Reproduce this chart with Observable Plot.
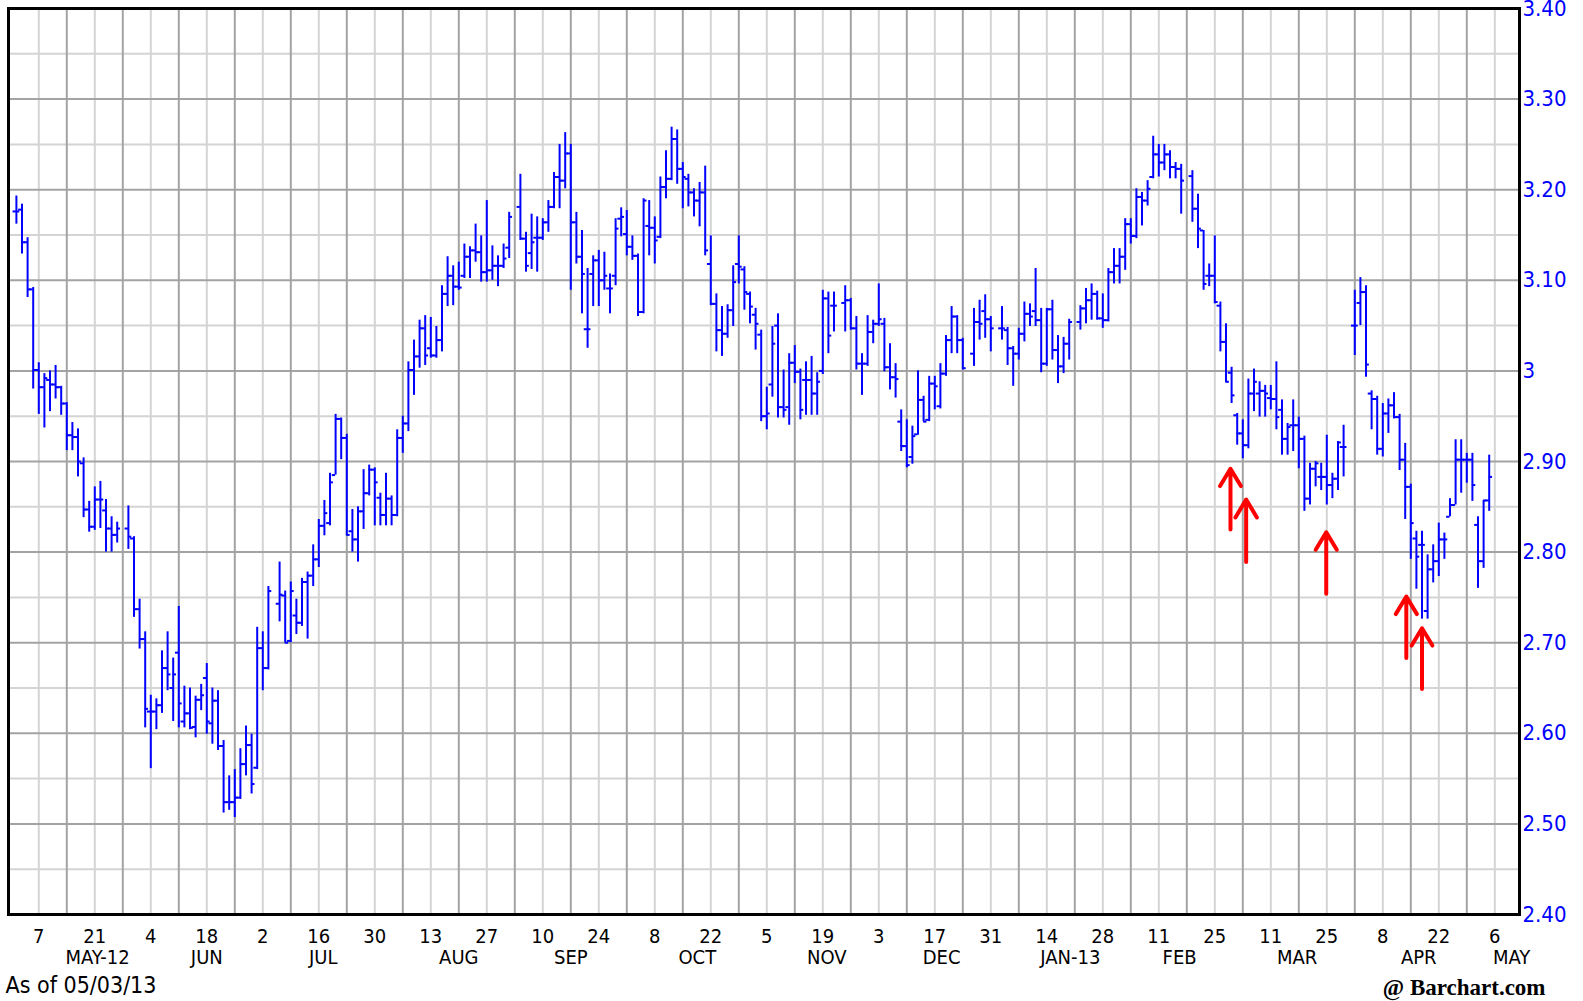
<!DOCTYPE html>
<html><head><meta charset="utf-8">
<script src="https://cdn.jsdelivr.net/npm/d3@7"></script>
<script src="https://cdn.jsdelivr.net/npm/@observablehq/plot@0.6"></script>
<style>
html,body{margin:0;padding:0;background:#fff;}
#chart{width:1583px;height:1001px;overflow:hidden;}
</style></head><body><div id="chart"></div>
<script>
// ---- calendar (categories) ----
const firstDay = "2012-05-01", lastDay = "2013-05-03";
const holidays = ["2012-05-28","2012-07-04","2012-09-03","2012-11-22","2012-12-25","2013-01-01","2013-01-21","2013-02-18","2013-03-29"];

// ---- daily OHLC values, one line per week ----
const open = [
3.176,3.178,3.142,3.090,
3.001,2.982,2.990,2.985,2.982,
2.964,2.929,2.927,2.898,2.847,
2.828,2.858,2.846,2.826,2.819,
2.826,2.815,2.737,2.704,
2.624,2.624,2.631,2.672,2.650,
2.689,2.613,2.622,2.607,2.637,
2.661,2.611,2.636,2.586,2.524,
2.524,2.529,2.566,2.587,2.562,
2.694,2.672,2.743,2.752,
2.702,2.730,2.722,2.767,2.774,
2.792,2.829,2.832,2.885,2.947,
2.926,2.823,2.814,2.845,2.865,
2.891,2.860,2.841,2.859,2.841,
2.926,2.942,3.001,3.016,3.047,
3.025,3.017,3.034,3.085,3.105,
3.093,3.105,3.126,3.133,3.131,
3.109,3.111,3.116,3.116,3.136,
3.181,3.146,3.130,3.147,
3.147,3.164,3.181,3.214,3.210,
3.240,3.164,3.126,3.046,3.107,
3.122,3.100,3.091,3.105,3.168,
3.151,3.137,3.127,3.065,3.160,
3.158,3.148,3.203,3.212,3.256,
3.223,3.212,3.197,3.188,3.197,
3.118,3.074,3.045,3.041,3.067,
3.118,3.112,3.085,3.062,3.040,
2.950,2.985,3.050,2.960,2.960,
3.009,2.999,2.990,2.990,2.975,
3.000,3.080,3.072,3.075,
3.078,3.047,3.008,3.008,3.043,
3.052,3.052,3.004,2.993,2.944,
2.917,2.905,2.930,2.968,2.946,
2.986,2.961,2.997,3.034,3.060,
3.034,3.019,3.054,3.066,
3.057,3.047,3.045,3.025,
3.019,3.041,3.063,3.066,3.056,
3.008,3.068,3.023,3.005,3.030,
3.054,3.069,3.078,3.085,
3.058,3.056,3.109,3.116,3.126,
3.162,3.149,3.192,3.188,3.214,
3.239,3.230,3.239,3.225,3.223,
3.215,3.179,3.155,3.105,
3.105,3.072,3.032,2.998,2.951,
2.931,2.918,2.975,2.975,2.978,
2.970,2.969,2.957,2.925,2.940,
2.940,2.925,2.859,2.892,2.883,
2.883,2.874,2.881,2.916,
3.050,3.075,3.087,2.975,2.969,
2.914,2.953,2.962,2.949,2.902,
2.872,2.815,2.808,2.735,2.781,
2.790,2.814,2.839,2.852,2.902,
2.902,2.902,2.830,2.790,2.857];
const high = [
3.193,3.184,3.147,3.092,
3.009,2.997,3.000,3.006,2.983,
2.965,2.943,2.936,2.904,2.856,
2.872,2.878,2.858,2.839,2.833,
2.851,2.817,2.748,2.712,
2.642,2.638,2.691,2.712,2.683,
2.740,2.652,2.650,2.641,2.654,
2.677,2.650,2.647,2.592,2.553,
2.560,2.583,2.608,2.599,2.717,
2.712,2.762,2.789,2.757,
2.767,2.748,2.771,2.778,2.808,
2.836,2.857,2.887,2.952,2.948,
2.930,2.847,2.850,2.891,2.896,
2.893,2.865,2.887,2.862,2.935,
2.950,3.010,3.034,3.056,3.061,
3.059,3.049,3.094,3.126,3.116,
3.120,3.140,3.137,3.162,3.149,
3.188,3.138,3.127,3.140,3.175,
3.217,3.153,3.173,3.170,
3.168,3.188,3.219,3.250,3.263,
3.250,3.175,3.155,3.113,3.127,
3.133,3.131,3.107,3.168,3.180,
3.177,3.149,3.129,3.190,3.188,
3.170,3.214,3.243,3.269,3.266,
3.230,3.217,3.201,3.208,3.226,
3.149,3.085,3.071,3.073,3.116,
3.149,3.115,3.087,3.069,3.045,
2.982,3.049,3.063,3.001,3.019,
3.028,3.002,3.010,3.016,2.998,
3.089,3.087,3.087,3.094,
3.080,3.060,3.019,3.061,3.056,
3.096,3.058,3.030,3.008,2.957,
2.946,2.939,3.000,2.972,2.994,
2.994,3.008,3.039,3.071,3.061,
3.036,3.069,3.078,3.084,
3.060,3.071,3.048,3.027,
3.047,3.076,3.074,3.113,3.069,
3.069,3.078,3.039,3.037,3.057,
3.072,3.091,3.096,3.088,
3.085,3.113,3.135,3.135,3.168,
3.168,3.201,3.197,3.210,3.259,
3.250,3.250,3.243,3.230,3.228,
3.221,3.195,3.155,3.118,
3.149,3.076,3.052,3.004,2.953,
2.946,2.991,3.002,2.988,2.984,
2.984,3.010,2.968,2.942,2.968,
2.949,2.928,2.898,2.900,2.898,
2.929,2.887,2.922,2.940,
3.089,3.103,3.094,2.978,2.972,
2.964,2.969,2.976,2.952,2.920,
2.875,2.823,2.823,2.797,2.808,
2.832,2.821,2.859,2.924,2.924,
2.909,2.909,2.839,2.857,2.907];
const low = [
3.162,3.129,3.081,2.980,
2.952,2.937,2.955,2.969,2.951,
2.912,2.912,2.883,2.838,2.822,
2.824,2.826,2.800,2.800,2.810,
2.803,2.728,2.693,2.606,
2.561,2.604,2.622,2.647,2.613,
2.606,2.606,2.604,2.595,2.625,
2.599,2.588,2.581,2.512,2.515,
2.507,2.527,2.553,2.533,2.560,
2.647,2.670,2.723,2.700,
2.700,2.709,2.718,2.704,2.762,
2.783,2.818,2.829,2.885,2.902,
2.818,2.800,2.789,2.825,2.862,
2.829,2.829,2.829,2.829,2.839,
2.909,2.933,2.973,3.003,3.006,
3.014,3.014,3.021,3.071,3.072,
3.089,3.102,3.102,3.120,3.098,
3.098,3.100,3.093,3.113,3.124,
3.144,3.109,3.112,3.109,
3.144,3.153,3.179,3.179,3.201,
3.089,3.118,3.063,3.025,3.071,
3.071,3.089,3.063,3.094,3.148,
3.127,3.122,3.060,3.063,3.127,
3.118,3.146,3.190,3.210,3.206,
3.179,3.181,3.170,3.159,3.127,
3.072,3.021,3.016,3.036,3.049,
3.096,3.067,3.052,3.023,2.944,
2.935,2.971,2.948,2.948,2.940,
2.986,2.946,2.951,2.951,2.951,
2.996,3.019,3.043,3.043,
3.045,3.001,2.973,3.005,3.030,
3.049,2.999,2.979,2.970,2.911,
2.893,2.897,2.929,2.944,2.944,
2.957,2.958,2.994,3.019,3.019,
3.001,3.005,3.034,3.036,
3.021,3.034,3.006,2.983,
3.012,3.032,3.049,3.049,2.998,
3.005,3.012,2.986,2.997,3.012,
3.045,3.052,3.056,3.056,
3.047,3.054,3.096,3.096,3.111,
3.140,3.146,3.160,3.182,3.212,
3.214,3.221,3.212,3.212,3.173,
3.164,3.135,3.089,3.093,
3.074,3.021,2.987,2.964,2.918,
2.903,2.914,2.955,2.949,2.949,
2.957,2.935,2.907,2.907,2.911,
2.892,2.845,2.852,2.872,2.868,
2.852,2.859,2.868,2.883,
3.017,3.050,2.993,2.935,2.907,
2.905,2.931,2.947,2.890,2.836,
2.792,2.759,2.726,2.726,2.766,
2.773,2.792,2.839,2.852,2.865,
2.876,2.856,2.760,2.782,2.845];
const close = [
3.176,3.142,3.090,3.001,
2.982,2.992,2.985,2.982,2.964,
2.929,2.927,2.900,2.847,2.828,
2.858,2.858,2.826,2.819,2.826,
2.817,2.737,2.704,2.627,
2.624,2.631,2.672,2.665,2.665,
2.633,2.622,2.606,2.637,2.642,
2.613,2.636,2.586,2.524,2.524,
2.529,2.566,2.587,2.544,2.694,
2.672,2.757,2.753,2.700,
2.757,2.722,2.767,2.774,2.792,
2.829,2.843,2.877,2.947,2.926,
2.819,2.814,2.845,2.865,2.891,
2.877,2.841,2.859,2.841,2.926,
2.942,3.001,3.016,3.047,3.017,
3.017,3.034,3.085,3.105,3.093,
3.092,3.126,3.133,3.131,3.109,
3.111,3.116,3.116,3.124,3.170,
3.146,3.116,3.142,3.147,
3.164,3.181,3.214,3.210,3.240,
3.164,3.126,3.107,3.046,3.122,
3.100,3.105,3.091,3.157,3.170,
3.137,3.127,3.065,3.188,3.158,
3.144,3.203,3.212,3.256,3.223,
3.214,3.197,3.188,3.197,3.133,
3.074,3.045,3.041,3.067,3.098,
3.115,3.087,3.071,3.052,2.950,
2.953,3.030,2.960,2.957,3.009,
2.999,2.957,2.990,2.975,2.988,
3.080,3.039,3.072,3.078,
3.047,3.008,3.008,3.043,3.052,
3.057,3.004,2.993,2.991,2.917,
2.896,2.928,2.968,2.944,2.986,
2.983,2.997,3.034,3.060,3.034,
3.003,3.054,3.052,3.057,
3.047,3.047,3.025,3.019,
3.041,3.063,3.060,3.056,3.008,
3.068,3.023,3.005,3.030,3.054,
3.069,3.078,3.085,3.058,
3.056,3.109,3.116,3.126,3.162,
3.149,3.192,3.188,3.201,3.239,
3.230,3.239,3.225,3.223,3.210,
3.179,3.157,3.096,3.105,
3.076,3.032,2.988,2.973,2.931,
2.918,2.975,2.988,2.978,2.975,
2.969,2.949,2.925,2.938,2.940,
2.925,2.859,2.892,2.898,2.883,
2.874,2.881,2.921,2.916,
3.050,3.087,3.007,2.969,2.914,
2.953,2.962,2.949,2.902,2.872,
2.832,2.795,2.808,2.781,2.790,
2.814,2.814,2.852,2.902,2.902,
2.902,2.874,2.790,2.857,2.883];

// ---- axis labels ----
const tickDates = ["2012-05-07","2012-05-21","2012-06-04","2012-06-18","2012-07-02","2012-07-16","2012-07-30","2012-08-13","2012-08-27","2012-09-10","2012-09-24","2012-10-08","2012-10-22","2012-11-05","2012-11-19","2012-12-03","2012-12-17","2012-12-31","2013-01-14","2013-01-28","2013-02-11","2013-02-25","2013-03-11","2013-03-25","2013-04-08","2013-04-22","2013-05-06"];
const monthNames = ["MAY-12","JUN","JUL","AUG","SEP","OCT","NOV","DEC","JAN-13","FEB","MAR","APR","MAY"];
const monthDates = ["2012-05-21T12:00Z","2012-06-18T00:00Z","2012-07-16T19:00Z","2012-08-20T00:00Z","2012-09-17T00:00Z","2012-10-17T14:00Z","2012-11-19T17:00Z","2012-12-18T05:00Z","2013-01-18T05:00Z","2013-02-14T17:00Z","2013-03-15T17:00Z","2013-04-16T10:00Z","2013-05-09T00:00Z"];
const yTicks = [2.40,2.50,2.60,2.70,2.80,2.90,3.00,3.10,3.20,3.30,3.40];
const yHalf = [2.45,2.55,2.65,2.75,2.85,2.95,3.05,3.15,3.25,3.35];

// ---- red annotation arrows ----
const arrowDates = ["2013-02-27T19:12Z","2013-03-04T14:24Z","2013-03-22T21:36Z","2013-04-12T04:48Z","2013-04-17T00:00Z"];
const arrowTip  = [2.892,2.858,2.822,2.751,2.716];
const arrowTail = [2.825,2.789,2.754,2.683,2.649];

// ---- helpers ----
const ref = Date.parse("2012-05-07T00:00Z");
function slot(s){
  const t = Date.parse(s.length === 10 ? s + "T00:00Z" : s);
  const d = (t - ref) / 864e5, w = Math.floor(d / 7);
  return w * 5 + (d - 7 * w);
}
const days = [];
for (let t = Date.parse(firstDay+"T00:00Z"); t <= Date.parse(lastDay+"T00:00Z"); t += 864e5) {
  const dt = new Date(t), wd = dt.getUTCDay();
  if (wd === 0 || wd === 6) continue;
  const iso = dt.toISOString().slice(0,10);
  if (holidays.includes(iso)) continue;
  days.push(iso);
}
const bars = days.map((d,i) => ({s: slot(d), o: open[i], h: high[i], l: low[i], c: close[i]})).filter(d => d.h != null);
const mondays = d3.range(0, 261, 5);
const lightX = mondays.filter(s => s % 10 === 0);
const darkX = mondays.filter(s => s % 10 !== 0);
const arrows = arrowDates.map((d,i) => ({s: slot(d), tip: arrowTip[i], tail: arrowTail[i]}));

const blue = "#0000ff";
const FONT = "'DejaVu Sans Condensed','DejaVu Sans',sans-serif";
const chart = Plot.plot({
  width: 1583, height: 1001,
  marginLeft: 8, marginRight: 64, marginTop: 8, marginBottom: 87,
  x: {domain: [-5.41, 264.41], axis: null},
  y: {domain: [2.4, 3.4], axis: null},
  style: {fontFamily: FONT, background: "white", overflow: "visible"},
  marks: [
    Plot.ruleY(yHalf, {stroke: "#d4d4d4", strokeWidth: 2}),
    Plot.ruleX(lightX, {stroke: "#d4d4d4", strokeWidth: 2}),
    Plot.ruleY(yTicks.slice(1, -1), {stroke: "#a3a3a3", strokeWidth: 2}),
    Plot.ruleX(darkX, {stroke: "#a3a3a3", strokeWidth: 2}),
    Plot.ruleX(bars, {x: "s", y1: "l", y2: "h", stroke: blue, strokeWidth: 2}),
    Plot.ruleY(bars, {y: "o", x1: d => d.s - 0.6, x2: "s", stroke: blue, strokeWidth: 2}),
    Plot.ruleY(bars, {y: "c", x1: "s", x2: d => d.s + 0.6, stroke: blue, strokeWidth: 2}),
    Plot.frame({stroke: "black", strokeWidth: 3}),
    Plot.arrow(arrows, {x1: "s", x2: "s", y1: "tail", y2: "tip", stroke: "#f00", strokeWidth: 4, headLength: 20, headAngle: 62}),
    Plot.text(yTicks, {y: d => d, frameAnchor: "right", dx: 3, textAnchor: "start",
      text: d => d === 3 ? "3" : d.toFixed(2), fill: blue, fontSize: 22}),
    Plot.text(tickDates, {x: d => slot(d), frameAnchor: "bottom", dy: 28, text: d => String(+d.slice(8)), fill: "black", fontSize: 20}),
    Plot.text(monthDates, {x: d => slot(d), frameAnchor: "bottom", dy: 49, text: (d,i) => monthNames[i], fill: "black", fontSize: 20,
      letterSpacing: (d,i) => monthNames[i].includes("-") ? "1.5px" : "0px"}),
    Plot.text(["As of 05/03/13"], {frameAnchor: "bottom-left", dx: -3, dy: 78, textAnchor: "start", fill: "black", fontSize: 23}),
    Plot.text(["@ Barchart.com"], {frameAnchor: "bottom-right", dx: 26, dy: 80, textAnchor: "end", fill: "black", fontSize: 23, fontWeight: "bold", fontFamily: "'Liberation Serif','DejaVu Serif',serif"})
  ]
});
document.getElementById("chart").appendChild(chart);
</script></body></html>
